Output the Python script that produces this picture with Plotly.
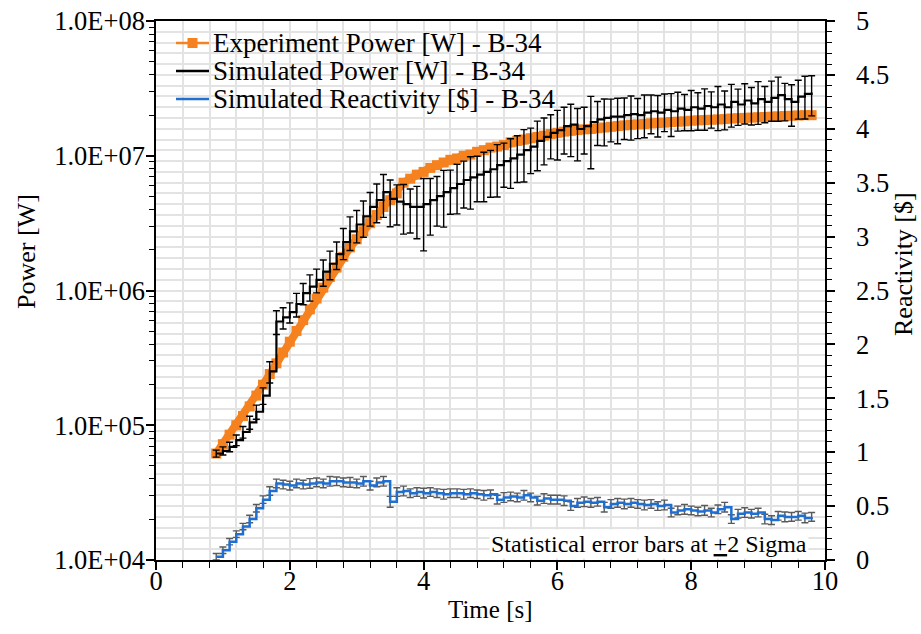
import plotly.graph_objects as go

# ---------------- data ----------------
# Experimental power (W) vs time (s)
t_exp = [0.9, 1.0, 1.1, 1.2, 1.3, 1.4, 1.5, 1.6, 1.7, 1.8,
         1.9, 2.0, 2.1, 2.2, 2.3, 2.4, 2.5, 2.6, 2.7, 2.8,
         2.9, 3.0, 3.1, 3.2, 3.3, 3.4, 3.5, 3.6, 3.7, 3.8,
         3.9, 4.0, 4.1, 4.2, 4.3, 4.4, 4.5, 4.6, 4.7, 4.8,
         4.9, 5.0, 5.1, 5.2, 5.3, 5.4, 5.5, 5.6, 5.7, 5.8,
         5.9, 6.0, 6.1, 6.2, 6.3, 6.4, 6.5, 6.6, 6.7, 6.8,
         6.9, 7.0, 7.1, 7.2, 7.3, 7.4, 7.5, 7.6, 7.7, 7.8,
         7.9, 8.0, 8.1, 8.2, 8.3, 8.4, 8.5, 8.6, 8.7, 8.8,
         8.9, 9.0, 9.1, 9.2, 9.3, 9.4, 9.5, 9.6, 9.7, 9.8]
p_exp = [6.17e4, 7.24e4, 8.51e4, 1.00e5, 1.17e5, 1.38e5, 1.66e5, 2.00e5, 2.40e5, 2.88e5,
         3.47e5, 4.17e5, 5.01e5, 6.03e5, 7.24e5, 8.71e5, 1.05e6, 1.26e6, 1.48e6, 1.78e6,
         2.09e6, 2.40e6, 2.75e6, 3.16e6, 3.63e6, 4.17e6, 4.68e6, 5.25e6, 6.31e6, 6.76e6,
         7.24e6, 7.59e6, 8.13e6, 8.51e6, 8.91e6, 9.33e6, 9.55e6, 1.00e7, 1.02e7, 1.07e7,
         1.10e7, 1.15e7, 1.17e7, 1.20e7, 1.26e7, 1.29e7, 1.32e7, 1.35e7, 1.38e7, 1.41e7,
         1.45e7, 1.48e7, 1.51e7, 1.53e7, 1.55e7, 1.57e7, 1.58e7, 1.60e7, 1.62e7, 1.64e7,
         1.66e7, 1.68e7, 1.70e7, 1.71e7, 1.72e7, 1.74e7, 1.75e7, 1.76e7, 1.78e7, 1.79e7,
         1.80e7, 1.82e7, 1.83e7, 1.84e7, 1.85e7, 1.86e7, 1.87e7, 1.89e7, 1.90e7, 1.91e7,
         1.92e7, 1.93e7, 1.94e7, 1.95e7, 1.96e7, 1.97e7, 1.98e7, 1.99e7, 2.00e7, 2.00e7]

# Simulated results per time bin (bin start times, s)
t_bin = [0.9, 1.0, 1.1, 1.2, 1.3, 1.4, 1.5, 1.6, 1.7, 1.8,
         1.9, 2.0, 2.1, 2.2, 2.3, 2.4, 2.5, 2.6, 2.7, 2.8,
         2.9, 3.0, 3.1, 3.2, 3.3, 3.4, 3.5, 3.6, 3.7, 3.8,
         3.9, 4.0, 4.1, 4.2, 4.3, 4.4, 4.5, 4.6, 4.7, 4.8,
         4.9, 5.0, 5.1, 5.2, 5.3, 5.4, 5.5, 5.6, 5.7, 5.8,
         5.9, 6.0, 6.1, 6.2, 6.3, 6.4, 6.5, 6.6, 6.7, 6.8,
         6.9, 7.0, 7.1, 7.2, 7.3, 7.4, 7.5, 7.6, 7.7, 7.8,
         7.9, 8.0, 8.1, 8.2, 8.3, 8.4, 8.5, 8.6, 8.7, 8.8,
         8.9, 9.0, 9.1, 9.2, 9.3, 9.4, 9.5, 9.6, 9.7, 9.8]
p_sim = [6.17e4, 6.46e4, 6.92e4, 7.76e4, 8.91e4, 1.05e5, 1.26e5, 1.66e5, 2.51e5, 5.89e5,
         6.31e5, 6.92e5, 7.94e5, 9.55e5, 1.07e6, 1.20e6, 1.38e6, 1.58e6, 1.86e6, 2.29e6,
         2.75e6, 3.09e6, 3.55e6, 4.17e6, 4.68e6, 5.37e6, 4.79e6, 4.57e6, 4.37e6, 4.17e6,
         4.17e6, 4.37e6, 4.68e6, 5.01e6, 5.37e6, 5.75e6, 6.17e6, 6.61e6, 6.92e6, 7.24e6,
         7.59e6, 7.94e6, 8.51e6, 9.12e6, 9.55e6, 1.02e7, 1.10e7, 1.17e7, 1.29e7, 1.38e7,
         1.48e7, 1.55e7, 1.66e7, 1.70e7, 1.58e7, 1.66e7, 1.78e7, 1.86e7, 1.91e7, 1.95e7,
         1.95e7, 2.00e7, 2.04e7, 2.00e7, 2.09e7, 2.14e7, 2.09e7, 2.19e7, 2.14e7, 2.24e7,
         2.19e7, 2.29e7, 2.24e7, 2.34e7, 2.29e7, 2.40e7, 2.29e7, 2.51e7, 2.40e7, 2.57e7,
         2.45e7, 2.63e7, 2.51e7, 2.69e7, 2.82e7, 2.63e7, 2.51e7, 2.75e7, 2.88e7, 2.95e7]
# +/- 2 sigma, relative to the simulated power
p_sim_rel_err = [0.06, 0.07, 0.08, 0.09, 0.10, 0.11, 0.12, 0.14, 0.18, 0.20,
                 0.18, 0.17, 0.20, 0.18, 0.22, 0.20, 0.22, 0.24, 0.23, 0.26,
                 0.28, 0.27, 0.30, 0.28, 0.32, 0.35, 0.38, 0.33, 0.40, 0.36,
                 0.42, 0.55, 0.45, 0.40, 0.45, 0.36, 0.40, 0.38, 0.42, 0.37,
                 0.40, 0.38, 0.42, 0.36, 0.40, 0.38, 0.42, 0.37, 0.40, 0.38,
                 0.36, 0.40, 0.38, 0.42, 0.42, 0.38, 0.55, 0.36, 0.38, 0.35,
                 0.37, 0.34, 0.36, 0.33, 0.35, 0.32, 0.34, 0.31, 0.35, 0.32,
                 0.30, 0.33, 0.31, 0.34, 0.30, 0.36, 0.32, 0.35, 0.30, 0.33,
                 0.31, 0.35, 0.30, 0.33, 0.36, 0.31, 0.34, 0.32, 0.35, 0.33]
# Simulated reactivity ($) and its +/- 2 sigma
rho_sim = [0.03, 0.09, 0.17, 0.24, 0.31, 0.38, 0.48, 0.56, 0.64, 0.71,
           0.70, 0.69, 0.71, 0.70, 0.71, 0.72, 0.71, 0.73, 0.73, 0.72,
           0.72, 0.71, 0.73, 0.69, 0.72, 0.73, 0.54, 0.63, 0.64, 0.62,
           0.63, 0.62, 0.63, 0.62, 0.61, 0.62, 0.62, 0.61, 0.62, 0.61,
           0.60, 0.61, 0.56, 0.58, 0.59, 0.58, 0.60, 0.58, 0.55, 0.57,
           0.56, 0.56, 0.55, 0.50, 0.53, 0.54, 0.53, 0.54, 0.49, 0.52,
           0.53, 0.52, 0.53, 0.52, 0.51, 0.52, 0.50, 0.51, 0.44, 0.46,
           0.47, 0.46, 0.45, 0.46, 0.44, 0.47, 0.49, 0.38, 0.43, 0.44,
           0.43, 0.44, 0.38, 0.37, 0.41, 0.40, 0.40, 0.41, 0.39, 0.40]
rho_err = [0.03, 0.03, 0.03, 0.03, 0.03, 0.035, 0.035, 0.035, 0.04, 0.04,
           0.04, 0.04, 0.04, 0.04, 0.045, 0.04, 0.04, 0.045, 0.04, 0.04,
           0.045, 0.04, 0.045, 0.04, 0.04, 0.045, 0.05, 0.04, 0.045, 0.04,
           0.04, 0.045, 0.04, 0.04, 0.045, 0.04, 0.04, 0.045, 0.04, 0.04,
           0.045, 0.04, 0.04, 0.045, 0.04, 0.04, 0.045, 0.04, 0.04, 0.045,
           0.04, 0.04, 0.045, 0.04, 0.04, 0.045, 0.04, 0.04, 0.045, 0.04,
           0.04, 0.045, 0.04, 0.04, 0.045, 0.04, 0.04, 0.045, 0.04, 0.04,
           0.045, 0.04, 0.04, 0.045, 0.04, 0.04, 0.045, 0.04, 0.04, 0.045,
           0.04, 0.04, 0.045, 0.04, 0.04, 0.045, 0.04, 0.04, 0.045, 0.04]

power_tickvals = [1e4, 1e5, 1e6, 1e7, 1e8]
power_ticktext = ["1.0E+04", "1.0E+05", "1.0E+06", "1.0E+07", "1.0E+08"]
legend_names = ["Experiment Power [W] - B-34",
                "Simulated Power [W] - B-34",
                "Simulated Reactivity [$] - B-34"]

# ---------------- style ----------------
FONT = "'Liberation Serif', 'Times New Roman', serif"
GRID = "#e3e3e3"
ORANGE = "#F5821F"
BLUE = "#1F6FD0"
TICK_SIZE = 26.5
W, H = 921, 634
ML, MR, MT, MB = 156, 96, 21, 74
PW, PH = W - ML - MR, H - MT - MB


def px_x(px):
    return (px - ML) / PW


def px_y(py):
    return (H - MB - py) / PH


p_sim_err = [p * r for p, r in zip(p_sim, p_sim_rel_err)]

fig = go.Figure()
# thick band of the measured curve
fig.add_trace(go.Scatter(
    x=t_exp, y=p_exp, name=legend_names[0], mode="lines",
    line=dict(color=ORANGE, width=8), showlegend=False,
))
fig.add_trace(go.Scatter(
    x=t_exp, y=p_exp, name=legend_names[0], mode="markers",
    marker=dict(symbol="square", size=10, color=ORANGE), showlegend=False,
))
fig.add_trace(go.Scatter(
    x=t_bin, y=p_sim, name=legend_names[1], showlegend=False,
    mode="lines", line=dict(color="black", width=2.2, shape="hv"),
    error_y=dict(type="data", array=p_sim_err, symmetric=True,
                 color="black", thickness=1.4, width=3.5),
))
fig.add_trace(go.Scatter(
    x=t_bin, y=rho_sim, name=legend_names[2], yaxis="y2", showlegend=False,
    mode="lines", line=dict(color=BLUE, width=2.5, shape="hv"),
    error_y=dict(type="data", array=rho_err, symmetric=True,
                 color="#5a5a5a", thickness=1.4, width=3.5),
))

# ---- legend (drawn by hand for Excel-like row spacing) ----
rows = [43, 71, 99]
colors = [ORANGE, "black", BLUE]
for name, row, col in zip(legend_names, rows, colors):
    fig.add_shape(type="line", xref="paper", yref="paper",
                  x0=px_x(176), x1=px_x(209), y0=px_y(row), y1=px_y(row),
                  line=dict(color=col, width=2.5))
    fig.add_annotation(x=px_x(211), y=px_y(row), xref="paper", yref="paper",
                       xanchor="left", yanchor="middle", text=name, showarrow=False,
                       font=dict(family=FONT, size=27, color="black"))
fig.add_shape(type="rect", xref="paper", yref="paper",
              x0=px_x(187.5), x1=px_x(197.5), y0=px_y(rows[0] + 5), y1=px_y(rows[0] - 5),
              line=dict(width=0), fillcolor=ORANGE)

fig.add_annotation(
    x=px_x(809), y=px_y(559), xref="paper", yref="paper", xanchor="right", yanchor="bottom",
    text="Statistical error bars at <u>+</u>2 Sigma", showarrow=False,
    font=dict(family=FONT, size=24, color="black"), bgcolor="white", borderpad=1,
)
# axis titles
fig.add_annotation(x=px_x(26), y=px_y(252), xref="paper", yref="paper",
                   xanchor="center", yanchor="middle",
                   text="Power [W]", textangle=-90, showarrow=False,
                   font=dict(family=FONT, size=26, color="black"))
fig.add_annotation(x=px_x(903), y=px_y(264), xref="paper", yref="paper",
                   xanchor="center", yanchor="middle",
                   text="Reactivity [$]", textangle=-90, showarrow=False,
                   font=dict(family=FONT, size=26, color="black"))
fig.add_annotation(x=px_x(490), y=px_y(609), xref="paper", yref="paper",
                   xanchor="center", yanchor="middle",
                   text="Time [s]", showarrow=False,
                   font=dict(family=FONT, size=25, color="black"))

common_minor = dict(tickcolor="black", tickwidth=1.2)
fig.update_layout(
    width=W, height=H,
    margin=dict(l=ML, r=MR, t=MT, b=MB),
    paper_bgcolor="white", plot_bgcolor="white",
    font=dict(family=FONT, size=TICK_SIZE, color="black"),
    showlegend=False,
    xaxis=dict(
        range=[0, 10], dtick=2, tick0=0, automargin=False,
        showline=True, linecolor="black", linewidth=1.5, mirror=True,
        ticks="outside", ticklen=8, tickwidth=1.5, tickcolor="black",
        ticklabelstandoff=-12,
        showgrid=True, gridcolor=GRID, gridwidth=1.5, zeroline=False,
        minor=dict(dtick=0.4, ticks="outside", ticklen=6, showgrid=True,
                   gridcolor=GRID, gridwidth=1.5, **common_minor),
        tickfont=dict(family=FONT, size=TICK_SIZE),
    ),
    yaxis=dict(
        type="log", range=[4, 8], automargin=False,
        tickvals=power_tickvals, ticktext=power_ticktext,
        showline=True, linecolor="black", linewidth=1.5,
        ticks="outside", ticklen=8, tickwidth=1.5, tickcolor="black",
        ticklabelstandoff=-4,
        showgrid=False, zeroline=False,
        minor=dict(ticks="outside", ticklen=5, dtick="D1", showgrid=False, **common_minor),
        tickfont=dict(family=FONT, size=TICK_SIZE),
    ),
    yaxis2=dict(
        range=[0, 5], dtick=0.5, tick0=0, overlaying="y", side="right", automargin=False,
        showline=True, linecolor="black", linewidth=1.5,
        ticks="outside", ticklen=8, tickwidth=1.5, tickcolor="black",
        ticklabelstandoff=16,
        showgrid=True, gridcolor=GRID, gridwidth=1.5, zeroline=False,
        minor=dict(dtick=0.1, ticks="outside", ticklen=5, showgrid=True,
                   gridcolor=GRID, gridwidth=1.5, **common_minor),
        tickfont=dict(family=FONT, size=TICK_SIZE),
    ),
    # inner halves of the crossing major ticks
    xaxis2=dict(
        range=[0, 10], dtick=2, tick0=0, overlaying="x", anchor="y", side="bottom",
        automargin=False, showline=False, showgrid=False, zeroline=False,
        ticks="inside", ticklen=6, tickwidth=1.5, tickcolor="black", showticklabels=False,
    ),
    yaxis3=dict(
        type="log", range=[4, 8], overlaying="y", side="left", anchor="x",
        tickvals=power_tickvals, automargin=False, showline=False, showgrid=False,
        zeroline=False, ticks="inside", ticklen=6, tickwidth=1.5, tickcolor="black",
        showticklabels=False,
    ),
    yaxis4=dict(
        range=[0, 5], dtick=0.5, tick0=0, overlaying="y", side="right", anchor="x",
        automargin=False, showline=False, showgrid=False, zeroline=False,
        ticks="inside", ticklen=6, tickwidth=1.5, tickcolor="black", showticklabels=False,
    ),
)

fig.write_html("out.html")
